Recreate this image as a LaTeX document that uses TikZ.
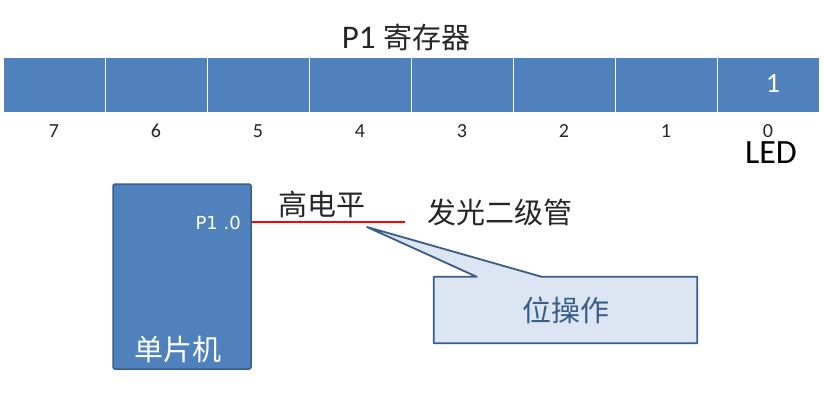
\documentclass[tikz,border=0pt]{standalone}
\usepackage{fontspec}
\setmainfont{Carlito}
\newfontfamily\cjk{Noto Sans CJK SC}
\newfontfamily\dvs{DejaVu Sans}
\usepackage{tikz}
\usetikzlibrary{calc,positioning}
\definecolor{bluex}{HTML}{4F81BD}
\definecolor{edgex}{HTML}{385D8A}
\definecolor{palex}{HTML}{DCE6F2}
\definecolor{textx}{HTML}{262626}
\tikzset{
  cell/.style={draw=white,line width=1pt,fill=bluex,minimum width=102pt,minimum height=55.5pt,inner sep=0pt},
  bitno/.style={font=\fontsize{20pt}{24pt}\selectfont,text=textx,inner sep=0pt},
  zh/.style={font=\fontsize{29pt}{34pt}\selectfont\cjk,text=textx,inner sep=0pt},
  chip/.style={draw=edgex,line width=1.5pt,fill=bluex,rounded corners=2pt,minimum width=138pt,minimum height=185pt},
  bubble/.style={draw=edgex,line width=1.8pt,fill=palex,line join=round}
}

\begin{document}
\begin{tikzpicture}[x=1pt,y=-1pt]
\useasboundingbox (0,0) rectangle (824,405);
\node[font=\fontsize{33pt}{38pt}\selectfont,text=textx,inner sep=0pt] (title) at (406,37) {P1 {\cjk\fontsize{29pt}{34pt}\selectfont 寄存器}};
% register bits, 7 on the left
\foreach \i in {0,...,7}{
  \node[cell] (b\i) at ({54+(7-\i)*102},85) {};
  \node[bitno] (n\i) at ({54+(7-\i)*102},131) {\i};
}
\node[font=\fontsize{28pt}{32pt}\selectfont,text=white,inner sep=0pt] (v0) at (773,83) {1};
\node[font=\fontsize{34pt}{38pt}\selectfont,text=black,inner sep=0pt] (led) at (771,153) {LED};

\node[chip] (mcu) at (182,276.5) {};
\node[font=\dvs\fontsize{18pt}{21pt}\selectfont,text=white,anchor=east,inner sep=0pt] (pin) at (241,223) {P1 .0};
\node[zh,text=white] (name) at (178,350) {单片机};
\coordinate (wend) at (405,222);
\draw[red,line width=1.5pt] (mcu.east |- wend) -- (wend);
\node[zh] (high) at (322,204) {高电平};
\node[zh] (diode) at (500,212) {发光二级管};

% callout
\coordinate (tip) at (367,227);
\node[minimum width=263pt,minimum height=66pt,inner sep=0pt] (op) at (565.5,310) {};
\draw[bubble] (op.north west) -- ($(op.north west)+(43,0)$) -- (tip) -- ($(op.north west)+(108,0)$) -- (op.north east) -- (op.south east) -- (op.south west) -- cycle;
\node[zh,text=edgex] (optext) at (op) {位操作};
\end{tikzpicture}
\end{document}
